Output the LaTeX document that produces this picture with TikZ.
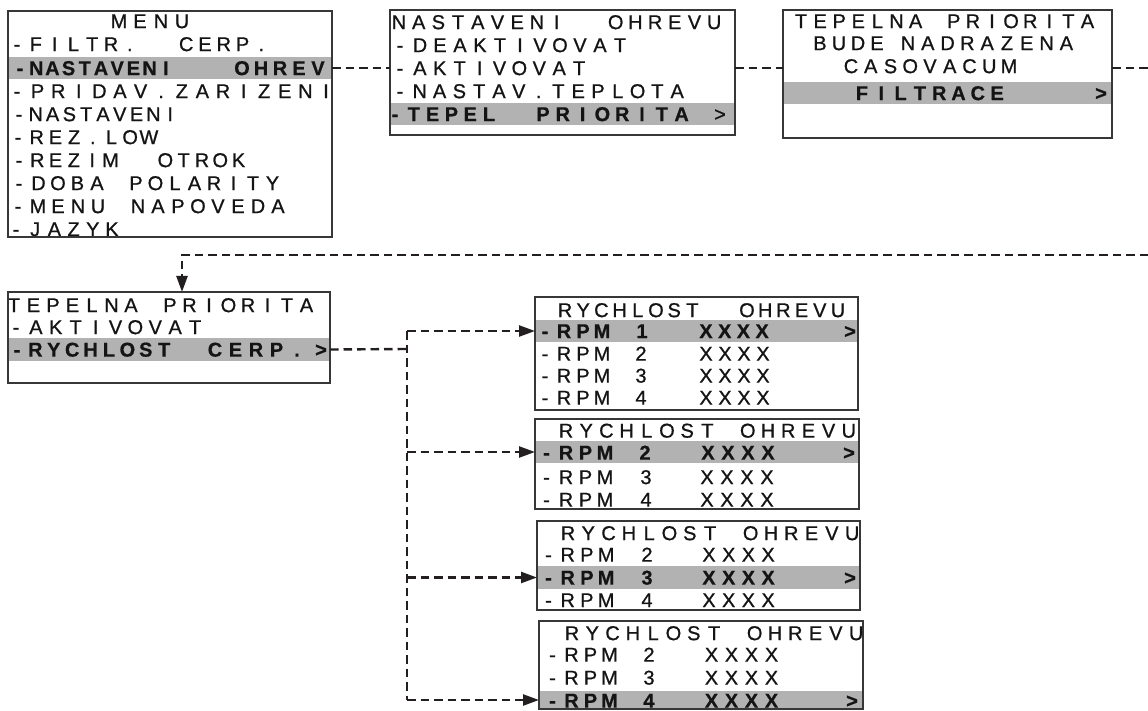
\documentclass[tikz,border=0pt]{standalone}
\usepackage{fontspec}
\setmainfont{Liberation Sans}[UprightFeatures={FakeBold=0.8},BoldFeatures={FakeBold=0.6}]
\usetikzlibrary{arrows.meta}
\definecolor{bandcol}{RGB}{178,178,178}
\definecolor{edgecol}{RGB}{55,55,55}
\definecolor{inkcol}{RGB}{20,20,20}
\definecolor{wirecol}{RGB}{35,31,32}
\makeatletter
\newcommand\lcd[2]{\def\lcdp{#1}\@tfor\lcdc:=#2\do{\makebox[\lcdp pt][c]{\lcdc}}}
\makeatother
\newcommand\lcdfont{\fontsize{20}{22}\selectfont}
\tikzset{
 txt/.style={anchor=base west, inner sep=0pt, outer sep=0pt, text=inkcol, font=\lcdfont},
 txtb/.style={txt, font=\lcdfont\bfseries},
 hl/.style={fill=bandcol, draw=none, inner sep=0pt, outer sep=0pt, rectangle},
 lcdbox/.style={draw=edgecol, line width=1.5pt, inner sep=0pt, outer sep=0pt, rectangle},
 wire/.style={draw=wirecol, line width=2.4pt, dash pattern=on 8.5pt off 5pt},
 arr/.style={-{Triangle[length=16pt,width=11pt]}},
}
\newcommand\tx[5]{\node[txt] (#1) at ({#2-#4/2},{#3+7.1}) {\lcd{#4}{#5}};}
\newcommand\tb[5]{\node[txtb] (#1) at ({#2-#4/2},{#3+7.1}) {\lcd{#4}{#5}};}
\newcommand\lcdrect[6]{\node[#2, minimum width={(#5-#3)*1pt}, minimum height={(#6-#4)*1pt}] (#1) at ({(#3+#5)/2},{(#4+#6)/2}) {};}
\begin{document}
\begin{tikzpicture}[x=1pt,y=-1pt]
\useasboundingbox (0,0) rectangle (1148,711);
\fill[white] (0,0) rectangle (1148,711);
% highlight bands
\lcdrect{r1}{hl}{8}{57}{332}{79}
\lcdrect{r2}{hl}{390}{103}{735}{125}
\lcdrect{r3}{hl}{783}{82}{1112}{104}
\lcdrect{r4}{hl}{8}{338}{330}{361}
\lcdrect{r5}{hl}{535}{320}{858}{342}
\lcdrect{r6}{hl}{535}{441}{859}{463}
\lcdrect{r7}{hl}{537}{566}{860}{589}
\lcdrect{r8}{hl}{539}{691}{863}{709}
% box 1
\tx{t1a}{119}{21}{21}{MENU}
\tx{t1b}{17}{44}{18.8}{-FILTR.~~CERP.}
\tb{t1c}{20}{68}{16.2}{-NASTAVENI}
\tb{t1d}{242}{68}{19}{OHREV}
\tx{t1e}{17}{91}{20.6}{-PRIDAV.ZARIZENI}
\tx{t1f}{19}{114}{16.8}{-NASTAVENI}
\tx{t1g}{18}{137}{18.7}{-REZ.LOW}
\tx{t1h}{19}{160}{18.3}{-REZIM~~OTROK}
\tx{t1i}{19}{183}{19.5}{-DOBA~POLARITY}
\tx{t1j}{18}{206}{20}{-MENU~NAPOVEDA}
\tx{t1k}{16}{229}{19.2}{-JAZYK}
% box 2
\tx{t2a}{399}{22}{19.7}{NASTAVENI~~OHREVU}
\tx{t2b}{400}{45}{20}{-DEAKTIVOVAT}
\tx{t2c}{400}{68}{19.9}{-AKTIVOVAT}
\tx{t2d}{400}{91}{19.8}{-NASTAV.TEPLOTA}
\tb{t2e}{395}{114}{18.8}{-TEPEL}
\tb{t2f}{543}{114}{19.8}{PRIORITA}
\tx{t2g}{720}{114}{12}{>}
% box 3
\tx{t3a}{801}{21}{19.1}{TEPELNA~PRIORITA}
\tx{t3b}{820}{43}{19}{BUDE}
\tx{t3c}{908}{43}{19.8}{NADRAZENA}
\tx{t3d}{851}{66}{19.75}{CASOVACUM}
\tb{t3e}{862}{93}{19.3}{FILTRACE}
\tb{t3f}{1101}{93}{12}{>}
% box 4
\tx{t4a}{14}{305}{19.5}{TEPELNA~PRIORITA}
\tx{t4b}{16}{327}{19.9}{-AKTIVOVAT}
\tb{t4c}{17}{349.5}{18.4}{-RYCHLOST}
\tb{t4d}{215}{349.5}{20.5}{CERP.}
\tb{t4e}{321}{349.5}{12}{>}
% box 5
\tx{t5a}{565}{310}{18.2}{RYCHLOST~~OHREVU}
\tb{t5b}{545}{331}{19}{-RPM}
\tb{t5c}{642}{331}{12}{1}
\tb{t5d}{706}{331}{18.7}{XXXX}
\tb{t5e}{850}{331}{12}{>}
\tx{t5f}{545}{353.5}{19}{-RPM}
\tx{t5g}{641}{353.5}{12}{2}
\tx{t5h}{706}{353.5}{19}{XXXX}
\tx{t5i}{545}{375.5}{19}{-RPM}
\tx{t5j}{641}{375.5}{12}{3}
\tx{t5k}{706}{375.5}{19}{XXXX}
\tx{t5l}{545}{397.5}{19}{-RPM}
\tx{t5m}{641}{397.5}{12}{4}
\tx{t5n}{706}{397.5}{19}{XXXX}
% box 6
\tx{t6a}{566}{430.5}{20.2}{RYCHLOST~OHREVU}
\tb{t6b}{546.5}{452.5}{19.5}{-RPM}
\tb{t6c}{645}{452.5}{12}{2}
\tb{t6d}{708}{452.5}{20}{XXXX}
\tb{t6e}{849}{452.5}{12}{>}
\tx{t6f}{546.5}{477}{19.5}{-RPM}
\tx{t6g}{646}{477}{12}{3}
\tx{t6h}{707}{477}{20}{XXXX}
\tx{t6i}{546.5}{499.5}{19.5}{-RPM}
\tx{t6j}{646}{499.5}{12}{4}
\tx{t6k}{707}{499.5}{20}{XXXX}
% box 7
\tx{t7a}{568}{533}{20.3}{RYCHLOST~OHREVU}
\tx{t7b}{548.5}{554.5}{19.2}{-RPM}
\tx{t7c}{647}{554.5}{12}{2}
\tx{t7d}{709}{554.5}{19.7}{XXXX}
\tb{t7e}{548.5}{577.5}{19.2}{-RPM}
\tb{t7f}{647}{577.5}{12}{3}
\tb{t7g}{709}{577.5}{19.7}{XXXX}
\tb{t7h}{850}{577.5}{12}{>}
\tx{t7i}{548.5}{600}{19.2}{-RPM}
\tx{t7j}{647}{600}{12}{4}
\tx{t7k}{709}{600}{19.7}{XXXX}
% box 8
\tx{t8a}{572}{633}{20.3}{RYCHLOST~OHREVU}
\tx{t8b}{552.5}{654.5}{19}{-RPM}
\tx{t8c}{649}{654.5}{12}{2}
\tx{t8d}{711.5}{654.5}{20}{XXXX}
\tx{t8e}{552.5}{677.5}{19}{-RPM}
\tx{t8f}{649}{677.5}{12}{3}
\tx{t8g}{711.5}{677.5}{20}{XXXX}
\tb{t8h}{552.5}{700.5}{19}{-RPM}
\tb{t8i}{649}{700.5}{12}{4}
\tb{t8j}{711.5}{700.5}{20}{XXXX}
\tb{t8k}{852}{700.5}{12}{>}
% box borders
\lcdrect{b1}{lcdbox}{8}{11}{332}{237}
\lcdrect{b2}{lcdbox}{390}{10}{735}{135}
\lcdrect{b3}{lcdbox}{783}{10}{1112}{138}
\lcdrect{b4}{lcdbox}{8}{292}{330}{383}
\lcdrect{b5}{lcdbox}{535}{297}{858}{410}
\lcdrect{b6}{lcdbox}{535}{419}{859}{509}
\lcdrect{b7}{lcdbox}{537}{521}{860}{610}
\lcdrect{b8}{lcdbox}{539}{621}{863}{709}
% connectors
\coordinate (eR1) at (1148,68);
\coordinate (eR2) at (1148,255);
\coordinate (vx) at (407,349);
\draw[wire] (r1.east) -- (r1.east -| b2.west);
\draw[wire] (b2.east |- r1.east) -- (b3.west |- r1.east);
\draw[wire] (b3.east |- r1.east) -- (eR1);
\draw[wire,arr] (eR2) -| ([xshift=13pt]b4.north);
\draw[wire] (r4.east) -- (vx);
\draw[wire] (vx |- r5.west) -- (vx |- r8.west);
\draw[wire,arr] (vx |- r5.west) -- (r5.west);
\draw[wire,arr] (vx |- r6.west) -- (r6.west);
\draw[wire,arr] (vx |- r7.west) -- (r7.west);
\draw[wire,arr] (vx |- r8.west) -- (r8.west);
\end{tikzpicture}
\end{document}
